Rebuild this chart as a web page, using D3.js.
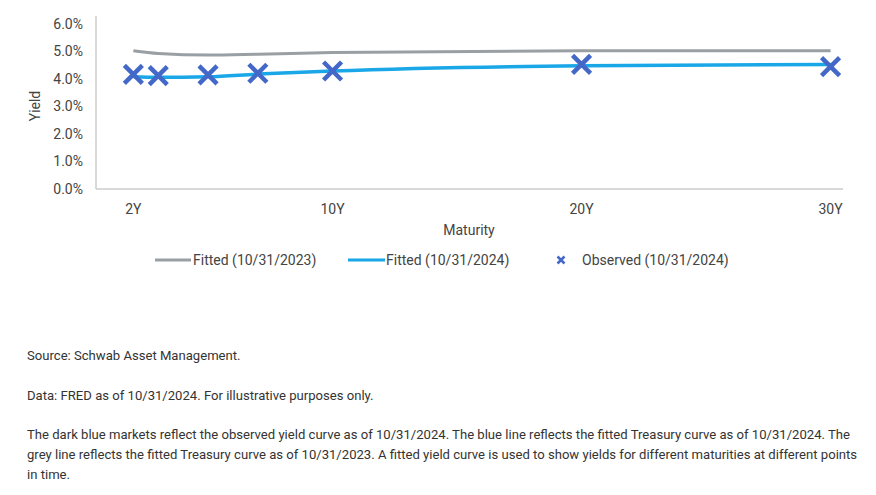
<!DOCTYPE html>
<html><head><meta charset="utf-8">
<script src="https://cdn.jsdelivr.net/npm/d3@7"></script>
<style>
body{margin:0;background:#fff;font-family:Roboto,"Noto Sans",sans-serif;}
p{position:absolute;left:27px;margin:0;font-size:13.1px;color:#333;line-height:20px;width:840px;}
</style></head><body>
<svg id="c" width="876" height="300" style="position:absolute;left:0;top:0"></svg>
<p style="top:346px">Source: Schwab Asset Management.</p>
<p style="top:386px">Data: FRED as of 10/31/2024. For illustrative purposes only.</p>
<p style="top:425px">The dark blue markets reflect the observed yield curve as of 10/31/2024. The blue line reflects the fitted Treasury curve as of 10/31/2024. The grey line reflects the fitted Treasury curve as of 10/31/2023. A fitted yield curve is used to show yields for different maturities at different points in time.</p>
<script>
const maturities=[2,3,5,7,10,20,30];
const fitted2023=[5.03,4.93,4.87,4.9,4.96,5.03,5.03];
const fitted2024=[4.08,4.06,4.08,4.18,4.29,4.48,4.53];
const observed2024=[4.17,4.12,4.15,4.21,4.29,4.53,4.45];
const xTicks=[2,10,20,30];
const yTicks=[0,1,2,3,4,5,6];
const FS=14;
const svg=d3.select("#c");
const x=d3.scaleLinear().domain([0.5,30.5]).range([96,843]);
const y=d3.scaleLinear().domain([0,6]).range([189,24]);
svg.append("line").attr("x1",96).attr("x2",96).attr("y1",16).attr("y2",189).attr("stroke","#ccc").attr("stroke-width",1.5);
svg.append("line").attr("x1",96).attr("x2",843).attr("y1",189).attr("y2",189).attr("stroke","#ccc").attr("stroke-width",1.5);
yTicks.forEach(t=>svg.append("text").attr("x",83).attr("y",y(t)).attr("dy","0.35em").attr("text-anchor","end").attr("font-size",FS).attr("fill","#444").text(t.toFixed(1)+"%"));
xTicks.forEach(t=>svg.append("text").attr("x",x(t)).attr("y",214).attr("text-anchor","middle").attr("font-size",FS).attr("fill","#444").text(t+"Y"));
svg.append("text").attr("transform","translate(40,106) rotate(-90)").attr("text-anchor","middle").attr("font-size",FS).attr("fill","#444").text("Yield");
svg.append("text").attr("x",469).attr("y",235).attr("text-anchor","middle").attr("font-size",FS).attr("fill","#444").text("Maturity");
const line=d3.line().x((d,i)=>x(maturities[i])).y(d=>y(d)).curve(d3.curveMonotoneX);
svg.append("path").attr("d",line(fitted2023)).attr("fill","none").attr("stroke","#9a9fa3").attr("stroke-width",3);
svg.append("path").attr("d",line(fitted2024)).attr("fill","none").attr("stroke","#1aa7e8").attr("stroke-width",3.5);
const cross="M-9,-9L9,9M9,-9L-9,9";
observed2024.forEach((v,i)=>svg.append("path").attr("transform",`translate(${x(maturities[i])},${y(v)})`).attr("d",cross).attr("stroke","#4468c8").attr("stroke-width",4.5));
const ly=260;
svg.append("line").attr("x1",155).attr("x2",191).attr("y1",ly).attr("y2",ly).attr("stroke","#9a9fa3").attr("stroke-width",3);
svg.append("text").attr("x",193).attr("y",ly).attr("dy","0.35em").attr("font-size",FS).attr("fill","#444").text("Fitted (10/31/2023)");
svg.append("line").attr("x1",348).attr("x2",385).attr("y1",ly).attr("y2",ly).attr("stroke","#1aa7e8").attr("stroke-width",3);
svg.append("text").attr("x",386).attr("y",ly).attr("dy","0.35em").attr("font-size",FS).attr("fill","#444").text("Fitted (10/31/2024)");
svg.append("path").attr("transform",`translate(561,${ly})`).attr("d","M-3.5,-3.5L3.5,3.5M3.5,-3.5L-3.5,3.5").attr("stroke","#4468c8").attr("stroke-width",2.5);
svg.append("text").attr("x",582).attr("y",ly).attr("dy","0.35em").attr("font-size",FS).attr("fill","#444").text("Observed (10/31/2024)");
</script></body></html>
